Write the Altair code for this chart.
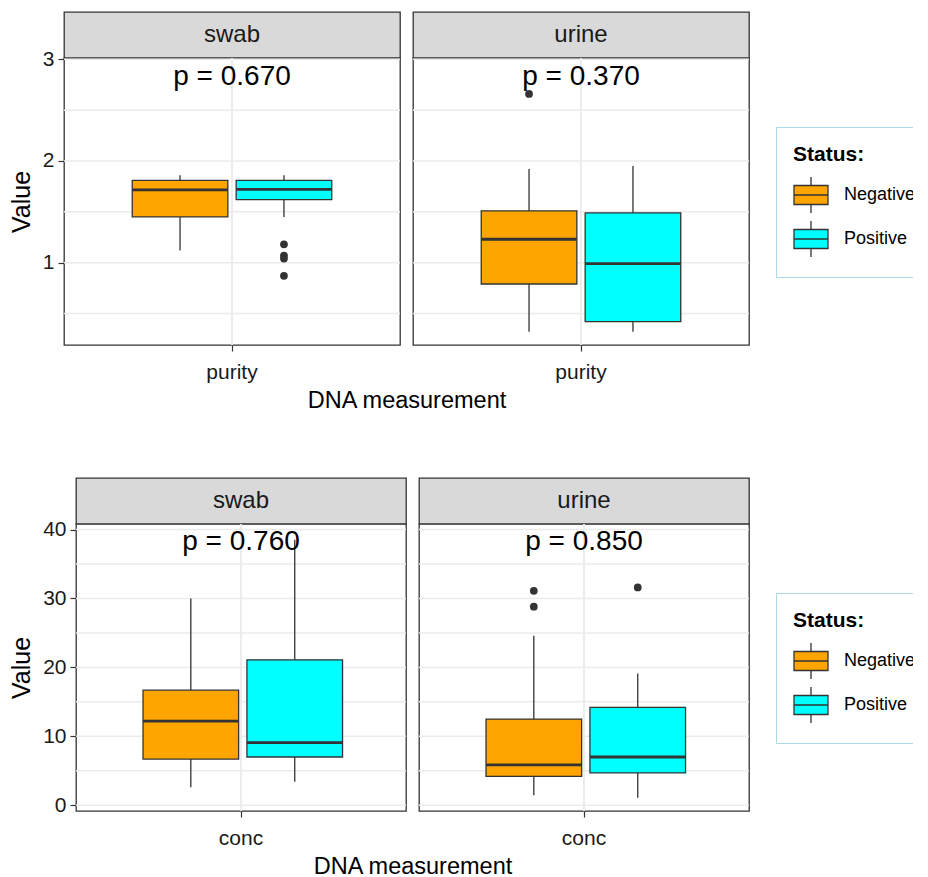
import altair as alt
import pandas as pd

FONT = "Liberation Sans"
DARK = "#333333"

statuses = ["Negative", "Positive"]
status_colors = ["#FFA500", "#00FFFF"]
sites = ["swab", "urine"]

# ---- Row 1: purity ----
purity_site = ["swab", "swab", "urine", "urine"]
purity_status = ["Negative", "Positive", "Negative", "Positive"]
purity_low = [1.12, 1.45, 0.32, 0.32]
purity_q1 = [1.45, 1.62, 0.79, 0.42]
purity_med = [1.715, 1.72, 1.23, 0.99]
purity_q3 = [1.81, 1.81, 1.51, 1.49]
purity_high = [1.86, 1.86, 1.92, 1.95]
purity_out_site = ["swab", "swab", "swab", "swab", "urine"]
purity_out_status = ["Positive", "Positive", "Positive", "Positive", "Negative"]
purity_out_value = [1.18, 1.07, 1.04, 0.87, 2.66]
purity_p = ["p = 0.670", "p = 0.370"]
purity_ticks = [1, 2, 3]
purity_grid = [0.5, 1, 1.5, 2, 2.5, 3]
purity_domain = [0.19, 3.013]
purity_label_y = 2.747

# ---- Row 2: conc ----
conc_site = ["swab", "swab", "urine", "urine"]
conc_status = ["Negative", "Positive", "Negative", "Positive"]
conc_low = [2.6, 3.4, 1.45, 1.1]
conc_q1 = [6.7, 7.0, 4.2, 4.7]
conc_med = [12.2, 9.1, 5.85, 7.0]
conc_q3 = [16.7, 21.1, 12.5, 14.2]
conc_high = [30.0, 38.5, 24.6, 19.1]
conc_out_site = ["urine", "urine", "urine"]
conc_out_status = ["Negative", "Negative", "Positive"]
conc_out_value = [31.1, 28.8, 31.6]
conc_p = ["p = 0.760", "p = 0.850"]
conc_ticks = [0, 10, 20, 30, 40]
conc_grid = [0, 5, 10, 15, 20, 25, 30, 35, 40]
conc_domain = [-0.83, 40.8]
conc_label_y = 36.96

LEGEND_PATH = "M-1,-0.56H1V0.56H-1Z M-1,0H1 M0,-0.56V-1.06 M0,0.56V1.06"
PANEL_GAP = 13


def make_panel(measure, site, box, out, p_label, p_y, grid, domain, ticks, width, first, legend):
    b = box[box["site"] == site]
    o = out[out["site"] == site]
    yscale = alt.Scale(domain=domain, nice=False, zero=False)
    xscale = alt.Scale(paddingOuter=0.342, paddingInner=0)
    oscale = alt.Scale(domain=statuses, paddingInner=0.08, paddingOuter=0)
    xaxis_kw = dict(labelAngle=0, domain=False, grid=False, ticks=True,
                    tickSize=6, tickColor=DARK, tickWidth=1.2, labelPadding=10,
                    labelFontSize=21, labelColor="#1a1a1a", labelFont=FONT)
    if first:
        xaxis = alt.Axis(title="DNA measurement", titleX=width + PANEL_GAP / 2,
                         titleAlign="center", titleFontSize=23.5, titleFontWeight="normal",
                         titleFont=FONT, titleColor="black", titlePadding=6, **xaxis_kw)
        yaxis = alt.Axis(title="Value", values=ticks, domain=False, grid=False, ticks=True,
                         tickSize=6, tickColor=DARK, tickWidth=1.2, labelPadding=4,
                         labelFontSize=21, labelColor="#1a1a1a", labelFont=FONT,
                         titleFontSize=25, titleFontWeight="normal", titleFont=FONT,
                         titleColor="black", titlePadding=8)
    else:
        xaxis = alt.Axis(title=None, **xaxis_kw)
        yaxis = None

    X = alt.X("measure:N", scale=xscale, axis=xaxis)
    XO = alt.XOffset("status:N", scale=oscale)

    def Y(f):
        return alt.Y(f + ":Q", scale=yscale, axis=yaxis)

    def Y2(f):
        return alt.Y2(f + ":Q")

    hgrid = alt.Chart(pd.DataFrame({"v": grid, "measure": measure})).mark_rule(
        color="#EBEBEB", strokeWidth=1.5).encode(y=Y("v"))
    vgrid = alt.Chart(b).mark_rule(color="#EBEBEB", strokeWidth=1.5).encode(x=X)
    whisk = alt.Chart(b).mark_rule(color=DARK, strokeWidth=1.3).encode(
        x=X, xOffset=XO, y=Y("low"), y2=Y2("high"))
    boxes = alt.Chart(b).mark_bar(stroke=DARK, strokeWidth=1.3, opacity=1).encode(
        x=X, xOffset=XO, y=Y("q1"), y2=Y2("q3"),
        color=alt.Color("status:N", scale=alt.Scale(domain=statuses, range=status_colors),
                        legend=legend))
    med = alt.Chart(b).mark_bar(fillOpacity=0, stroke=DARK, strokeWidth=2.8).encode(
        x=X, xOffset=XO, y=Y("med"), y2=Y2("med"))
    layers = [hgrid, vgrid, whisk, boxes, med]
    if len(o):
        pts = alt.Chart(o).mark_circle(size=60, color=DARK, opacity=1).encode(
            x=X, xOffset=XO, y=Y("value"))
        layers.append(pts)
    txt = alt.Chart(pd.DataFrame({"measure": [measure], "label": [p_label], "py": [p_y]})).mark_text(
        fontSize=28, font=FONT, color="black", baseline="alphabetic").encode(
        x=X, y=Y("py"), text="label:N")
    layers.append(txt)
    plot = alt.layer(*layers).properties(
        width=width, height=287,
        view=alt.ViewBackground(fill="white", stroke=DARK, strokeWidth=1.3))
    strip = alt.Chart(pd.DataFrame({"site": [site]})).mark_text(
        fontSize=24, font=FONT, color="#1a1a1a").encode(text="site:N").properties(
        width=width, height=46,
        view=alt.ViewBackground(fill="#D9D9D9", stroke=DARK, strokeWidth=1.3))
    return strip, plot


def make_row(measure, site_l, status_l, low, q1, med, q3, high, out_site, out_status, out_value,
             plabels, p_y, grid, domain, ticks, width, lx, ly):
    box = pd.DataFrame({"site": site_l, "status": status_l, "measure": measure,
                        "low": low, "q1": q1, "med": med, "q3": q3, "high": high})
    out = pd.DataFrame({"site": out_site, "status": out_status, "measure": measure,
                        "value": out_value})
    legend = alt.Legend(title="Status:", orient="none", legendX=lx, legendY=ly,
                        strokeColor="#ADD8E6", padding=17,
                        titleFontSize=21, titleFontWeight="bold", titleFont=FONT,
                        titleColor="black", titlePadding=12,
                        labelFontSize=18, labelFont=FONT, labelColor="black",
                        labelOffset=15, rowPadding=2,
                        symbolType=LEGEND_PATH, symbolSize=1156,
                        symbolStrokeColor=DARK, symbolStrokeWidth=1.3, symbolOpacity=1)
    s1, p1 = make_panel(measure, sites[0], box, out, plabels[0], p_y, grid, domain, ticks,
                        width, True, legend)
    s2, p2 = make_panel(measure, sites[1], box, out, plabels[1], p_y, grid, domain, ticks,
                        width, False, legend)
    row = alt.concat(s1, s2, p1, p2, columns=2, bounds="flush",
                     spacing={"row": 0, "column": PANEL_GAP}).resolve_scale(
        color="shared", x="independent", y="independent")
    return row


row1 = make_row("purity", purity_site, purity_status, purity_low, purity_q1, purity_med,
                purity_q3, purity_high, purity_out_site, purity_out_status, purity_out_value,
                purity_p, purity_label_y, purity_grid, purity_domain, purity_ticks, 336, 712, 115)
row2 = make_row("conc", conc_site, conc_status, conc_low, conc_q1, conc_med,
                conc_q3, conc_high, conc_out_site, conc_out_status, conc_out_value,
                conc_p, conc_label_y, conc_grid, conc_domain, conc_ticks, 330, 712, 115)

# empty spacer that indents the second row's plot area (its y labels are wider)
spacer = alt.Chart(pd.DataFrame({"site": [""]})).mark_text().encode(
    text="site:N").properties(width=1, height=1,
                              view=alt.ViewBackground(stroke="transparent", fill="transparent"))
row2_indented = alt.hconcat(spacer, row2, spacing=11, bounds="flush")

chart = alt.vconcat(row1, row2_indented, spacing=59).resolve_scale(
    color="independent", x="independent", y="independent").properties(
    padding={"left": 0, "top": 3, "right": -21, "bottom": 0}).configure(font=FONT)

chart.save("out.html", embed_options={"renderer": "svg", "actions": False})
